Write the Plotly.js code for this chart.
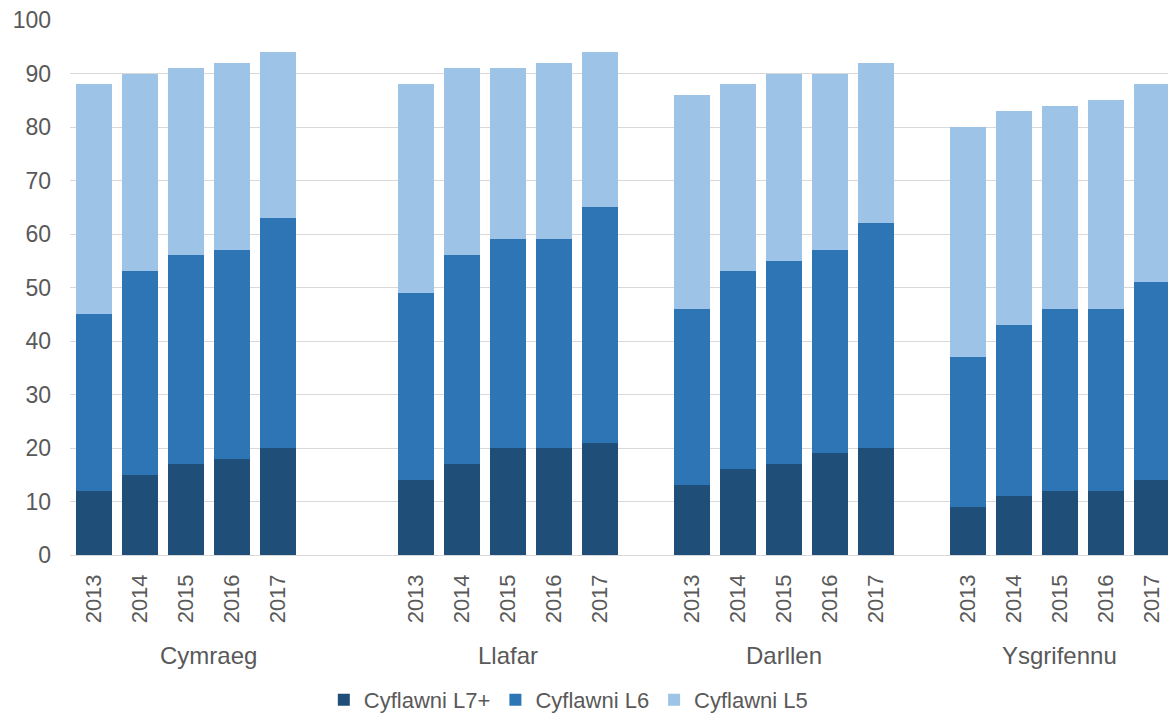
<!DOCTYPE html>
<html>
<head>
<meta charset="utf-8">
<script src="https://cdn.plot.ly/plotly-3.0.1.min.js"></script>
<style>html,body{margin:0;padding:0;background:#fff;}#chart{width:1168px;height:715px;}</style>
</head>
<body>
<div id="chart"></div>
<script>
var groups = ['Cymraeg', 'Llafar', 'Darllen', 'Ysgrifennu'];
var years = ['2013', '2014', '2015', '2016', '2017'];
var seriesNames = ['Cyflawni L7+', 'Cyflawni L6', 'Cyflawni L5'];

var l7 = {
  'Cymraeg':    [12, 15, 17, 18, 20],
  'Llafar':     [14, 17, 20, 20, 21],
  'Darllen':    [13, 16, 17, 19, 20],
  'Ysgrifennu': [9, 11, 12, 12, 14]
};
var l6 = {
  'Cymraeg':    [33, 38, 39, 39, 43],
  'Llafar':     [35, 39, 39, 39, 44],
  'Darllen':    [33, 37, 38, 38, 42],
  'Ysgrifennu': [28, 32, 34, 34, 37]
};
var l5 = {
  'Cymraeg':    [43, 37, 35, 35, 31],
  'Llafar':     [39, 35, 32, 33, 29],
  'Darllen':    [40, 35, 35, 33, 30],
  'Ysgrifennu': [43, 40, 38, 39, 37]
};

var colors = ['#1F4E79', '#2E75B6', '#9DC3E6'];
var gapsAfter = [2, 1, 1];
var groupLabelPos = [2.5, 9, 15, 21];

var catArray = [], tickText = [], xs = [], v7 = [], v6 = [], v5 = [];
groups.forEach(function (g, gi) {
  years.forEach(function (y, yi) {
    var key = g + ' ' + y;
    catArray.push(key); tickText.push(y);
    xs.push(key);
    v7.push(l7[g][yi]); v6.push(l6[g][yi]); v5.push(l5[g][yi]);
  });
  if (gi < gapsAfter.length) {
    for (var k = 0; k < gapsAfter[gi]; k++) { catArray.push('gap' + gi + '_' + k); tickText.push(''); }
  }
});

var font = 'Liberation Sans, Arial, sans-serif';
var txtColor = '#595959';

var traces = [v7, v6, v5].map(function (vals, i) {
  return {
    type: 'bar', x: xs, y: vals, name: seriesNames[i],
    marker: {color: colors[i], line: {width: 0}},
    hoverinfo: 'skip'
  };
});

var annotations = groups.map(function (g, i) {
  return {
    text: g, x: groupLabelPos[i], xref: 'x', y: -0.187, yref: 'paper',
    showarrow: false, xanchor: 'center', yanchor: 'middle',
    font: {family: font, size: 24, color: txtColor}
  };
});

var layout = {
  width: 1168, height: 715,
  margin: {l: 70, r: 0, t: 20, b: 160, autoexpand: false},
  paper_bgcolor: '#ffffff', plot_bgcolor: '#ffffff',
  barmode: 'stack', bargap: 0.22,
  showlegend: true,
  legend: {
    orientation: 'h', x: 0.487, xanchor: 'center', xref: 'container',
    y: 0.021, yanchor: 'middle', yref: 'container',
    font: {family: font, size: 22, color: txtColor},
    traceorder: 'normal', itemwidth: 30
  },
  xaxis: {
    type: 'category', categoryorder: 'array', categoryarray: catArray,
    tickmode: 'array', tickvals: catArray, ticktext: tickText,
    tickangle: -90, range: [-0.52, 23.35], automargin: false,
    showgrid: false, showline: false, zeroline: false, ticks: '',
    ticklabelstandoff: 14,
    tickfont: {family: font, size: 22, color: txtColor}
  },
  yaxis: {
    range: [0, 100], tickmode: 'linear', tick0: 0, dtick: 10, automargin: false,
    showgrid: true, gridcolor: '#d9d9d9', gridwidth: 1,
    zeroline: true, zerolinecolor: '#d9d9d9', zerolinewidth: 1,
    showline: false, ticks: '', ticklabelstandoff: 18,
    tickfont: {family: font, size: 23, color: txtColor}
  },
  annotations: annotations
};

Plotly.newPlot('chart', traces, layout, {displayModeBar: false, staticPlot: true});
</script>
</body>
</html>
